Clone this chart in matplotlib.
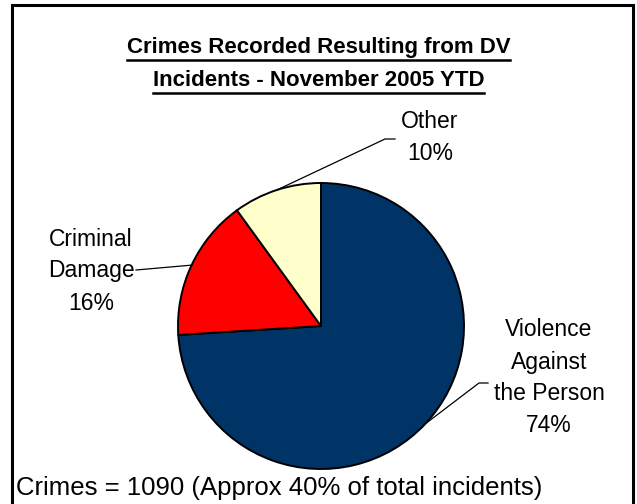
import numpy as np
import matplotlib
matplotlib.use("Agg")
import matplotlib.pyplot as plt
from matplotlib.patches import Rectangle

# Crime categories and their share of recorded crimes
categories = ["Violence\nAgainst\nthe Person", "Criminal\nDamage", "Other"]
shares = [74, 16, 10]
colors = ["#003366", "#FF0000", "#FFFFCC"]
title_lines = ["Crimes Recorded Resulting from DV", "Incidents - November 2005 YTD"]
footer = "Crimes = 1090 (Approx 40% of total incidents)"

W, H = 637, 504
plt.rcParams["font.family"] = ["Liberation Sans", "DejaVu Sans"]
fig = plt.figure(figsize=(W / 100, H / 100), dpi=100)
ax = fig.add_axes([0, 0, 1, 1])

cx, cy, r = 321, H - 326, 143
wedges, _ = ax.pie(shares, colors=colors, startangle=90, counterclock=False,
                   center=(cx, cy), radius=r,
                   wedgeprops=dict(edgecolor="black", linewidth=1.4))
ax.set_xlim(0, W)
ax.set_ylim(0, H)
ax.set_aspect("equal")
ax.axis("off")

# outer frame (bottom edge runs off the canvas)
ax.add_patch(Rectangle((12, -10), 621, H - 5 + 10, fill=False,
                       edgecolor="black", linewidth=2.2, clip_on=False))

# labels with leader lines from the wedge mid-angle
total = sum(shares)
label_pos = [(549, H - 378), (91, H - 271), (430, H - 137)]
line_ends = [[(479, H - 383), (488, H - 383)],
             [(136, H - 270)],
             [(385, H - 139), (395, H - 139)]]
for w, cat, v, (tx, ty), ends in zip(wedges, categories, shares, label_pos, line_ends):
    ang = np.deg2rad((w.theta1 + w.theta2) / 2)
    ex, ey = cx + r * np.cos(ang), cy + r * np.sin(ang)
    xs = [ex] + [p[0] for p in ends]
    ys = [ey] + [p[1] for p in ends]
    ax.plot(xs, ys, color="black", linewidth=0.9)
    ax.text(tx, ty, f"{cat}\n{v / total * 100:.0f}%", ha="center", va="center",
            fontsize=16.5, linespacing=1.5, color="black")

# underlined bold title
fig.canvas.draw()
renderer = fig.canvas.get_renderer()
for line, y in zip(title_lines, [H - 47, H - 80]):
    t = ax.text(W / 2, y, line, ha="center", va="center", fontsize=16,
                fontweight="bold")
    bb = t.get_window_extent(renderer).transformed(ax.transData.inverted())
    ax.plot([bb.x0, bb.x1], [y - 13, y - 13], color="black", linewidth=1.8)

ax.text(16, H - 495, footer, ha="left", va="baseline", fontsize=18.5)

fig.savefig("out.png", dpi=100)
